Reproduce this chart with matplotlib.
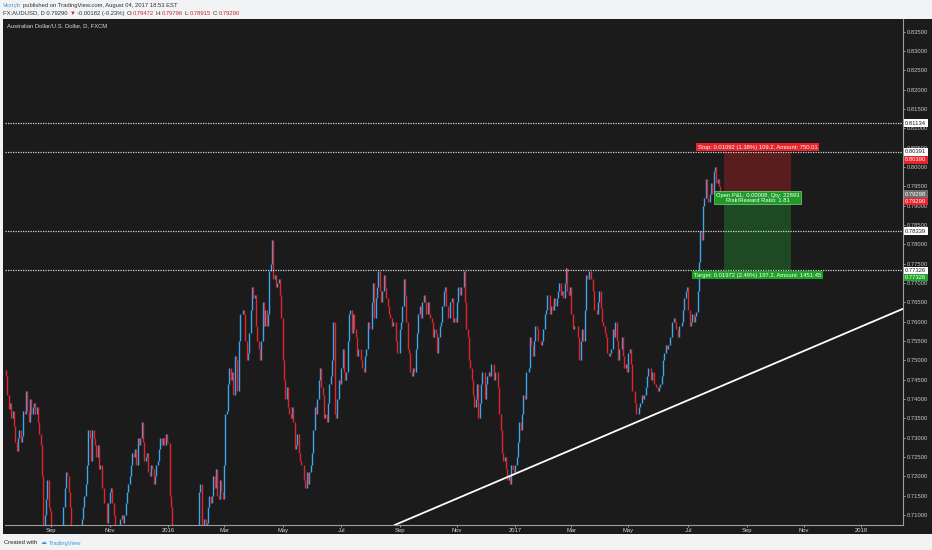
import numpy as np
import pandas as pd
import matplotlib
matplotlib.use("Agg")
import matplotlib.pyplot as plt
from matplotlib.patches import Rectangle
from matplotlib.transforms import blended_transform_factory

W, H = 932, 550
FONT = ["Liberation Sans", "DejaVu Sans"]

# AUD/USD daily closes in pips, one row per trading week
first_date = "2015-07-15"
first_open = 7475

closes_2015 = [
    7460, 7410, 7375,
    7390, 7350, 7370, 7330, 7290,
    7265, 7300, 7320, 7290, 7305,
    7370, 7360, 7420, 7370, 7340,
    7400, 7360, 7380, 7390, 7360,
    7380, 7340, 7310, 7280, 7200,
    7060, 7100, 7140, 7190, 7120,
    7110, 7050, 7040, 7010, 6940,
    6960, 6990, 7040, 7030, 7040,
    7120, 7170, 7210, 7200, 7160,
    7120, 7070, 7020, 7030, 7000,
    6990, 6980, 7020, 7050, 7090,
    7120, 7150, 7180, 7230, 7320,
    7300, 7240, 7320, 7300, 7280,
    7250, 7280, 7220, 7230, 7170,
    7170, 7130, 7130, 7080, 7130,
    7160, 7170, 7130, 7100, 7050,
    7030, 7020, 7030, 7090, 7100,
    7080, 7100, 7130, 7160, 7180,
    7200, 7230, 7260, 7250, 7270,
    7230, 7300, 7280, 7300, 7340,
    7290, 7240, 7250, 7260, 7210,
    7200, 7230, 7220, 7180, 7200,
    7230, 7240, 7270, 7300, 7280,
    7300, 7280, 7310, 7290, 7285,
]

closes_2016 = [
    7150, 7120, 7050, 6990, 7020,
    6990, 6990, 6940, 6920, 6860,
    6900, 6860, 6880, 6960, 6980,
    6990, 7010, 6960, 7050, 7070,
    7050, 7040, 7160, 7180, 7060,
    7060, 7090, 7060, 7080, 7120,
    7150, 7130, 7150, 7200, 7170,
    7220, 7150, 7140, 7190, 7160,
    7140, 7230, 7360, 7370, 7440,
    7480, 7450, 7470, 7410, 7510,
    7500, 7420, 7550, 7620, 7620,
    7630, 7620, 7550, 7500, 7520,
    7570, 7630, 7690, 7660, 7670,
    7590, 7550, 7530, 7500, 7550,
    7650, 7590, 7630, 7590, 7620,
    7730, 7750, 7810, 7710, 7720,
    7690, 7700, 7710, 7670, 7610,
    7500, 7450, 7400, 7430, 7380,
    7360, 7350, 7380, 7340, 7270,
    7280, 7310, 7260, 7240, 7230,
    7230, 7190, 7170, 7210, 7180,
    7210, 7230, 7260, 7320, 7380,
    7360, 7400, 7450, 7480, 7430,
    7410, 7350, 7360, 7340, 7390,
    7440, 7460, 7500, 7600, 7360,
    7350, 7400, 7450, 7440, 7480,
    7530, 7470, 7450, 7470, 7550,
    7620, 7630, 7570, 7620, 7580,
    7560, 7510, 7530, 7530, 7500,
    7480, 7470, 7510, 7530, 7600,
    7580, 7580, 7650, 7700, 7610,
    7660, 7690, 7730, 7680, 7650,
    7680, 7720, 7690, 7660, 7640,
    7620, 7610, 7590, 7600, 7600,
    7550, 7520, 7520, 7580, 7600,
    7640, 7710, 7670, 7600, 7530,
    7520, 7470, 7460, 7480, 7470,
    7530, 7570, 7620, 7640, 7610,
    7650, 7670, 7650, 7620, 7650,
    7620, 7610, 7600, 7560, 7580,
    7570, 7520, 7560, 7590, 7600,
    7640, 7680, 7690, 7640, 7610,
    7610, 7650, 7660, 7600, 7610,
    7600, 7650, 7690, 7670, 7690,
    7690, 7730, 7650, 7580, 7560,
    7500, 7480, 7450, 7410, 7380,
    7400, 7440, 7350, 7390, 7440,
    7470, 7470, 7400, 7440, 7460,
    7470, 7460, 7490, 7490, 7450,
    7470, 7470, 7430, 7360, 7320,
    7260, 7240, 7250, 7220, 7190,
    7200, 7180, 7230, 7220, 7210,
]

closes_2017 = [
    7230, 7250, 7290, 7340, 7320,
    7360, 7410, 7400, 7470, 7470,
    7480, 7560, 7540, 7510, 7550,
    7590, 7580, 7550, 7550, 7540,
    7550, 7580, 7620, 7630, 7670,
    7670, 7620, 7640, 7630, 7660,
    7640, 7660, 7680, 7700, 7670,
    7680, 7660, 7700, 7740, 7680,
    7670, 7690, 7620, 7580, 7590,
    7590, 7590, 7560, 7500, 7550,
    7580, 7550, 7630, 7720, 7710,
    7730, 7730, 7710, 7680, 7630,
    7630, 7620, 7650, 7680, 7635,
    7600, 7590, 7570, 7560, 7520,
    7510, 7520, 7530, 7580, 7560,
    7600, 7550, 7500, 7530, 7530,
    7560, 7510, 7480, 7490, 7470,
    7520, 7530, 7490, 7420, 7420,
    7390, 7360, 7360, 7380, 7390,
    7410, 7400, 7410, 7430, 7460,
    7480, 7480, 7450, 7470, 7440,
    7440, 7430, 7420, 7430, 7440,
    7460, 7500, 7520, 7540, 7530,
    7540, 7560, 7560, 7600, 7610,
    7600, 7580, 7560, 7590, 7590,
    7600, 7630, 7660, 7680, 7690,
    7630, 7590, 7600, 7620, 7600,
    7615, 7625, 7680, 7755, 7835,
    7810, 7900, 7920, 7970, 7920,
    7910, 7930, 7960, 7930, 7990,
    8000, 7960, 7970, 7950, 7929,
]

# horizontal levels drawn on the chart
levels = [0.81134, 0.80391, 0.78339, 0.77326]

# price tags on the right axis: price, text, box colour, text colour, shift in px
tag_prices = [0.81134, 0.80391, 0.80390, 0.79298, 0.79290, 0.78339, 0.77326, 0.77326]
tag_texts = ["0.81134", "0.80391", "0.80390", "0.79298", "0.79290", "0.78339", "0.77326", "0.77326"]
tag_faces = ["white", "white", "#e8232a", "#6e6e6e", "#e8232a", "white", "white", "#22a32a"]
tag_inks = ["#222222", "#222222", "white", "white", "white", "#222222", "#222222", "white"]
tag_shift = [0, 0, -8, 0, -7, 0, 0, -7]

# short position tool
pos_start, pos_end = "2017-08-09", "2017-10-18"
entry, stop, target = 0.79298, 0.80390, 0.77326
stop_text = "Stop: 0.01092 (1.38%) 109.2, Amount: 750.01"
target_text = "Target: 0.01972 (2.49%) 197.2, Amount: 1451.45"
pnl_text = "Open P&L: 0.00008, Qty: 22893\nRisk/Reward Ratio: 1.81"

# trend line anchors (touching the Dec 2016 and May 2017 lows)
trend_dates = ["2016-12-23", "2017-05-09"]
trend_prices = [0.7198, 0.7340]

month_names = {3: "Mar", 5: "May", 7: "Jul", 9: "Sep", 11: "Nov"}

closes = np.array(closes_2015 + closes_2016 + closes_2017) / 10000.0
opens = np.r_[first_open / 10000.0, closes[:-1]]
idx = np.arange(len(closes))
days = pd.bdate_range(first_date, "2018-03-30")


def bar_of(date):
    return days.searchsorted(pd.Timestamp(date))


BG = "#f1f3f5"
DARK = "#1b1b1b"
fig = plt.figure(figsize=(W / 100, H / 100), dpi=100)
fig.patch.set_facecolor(BG)

# dark chart panel behind the plot and both scales
panel = fig.add_axes([3 / W, 1 - 534 / H, 1 - 3 / W, (534 - 19) / H], zorder=-5)
panel.set_facecolor(DARK)
panel.set_xticks([])
panel.set_yticks([])
for s in panel.spines.values():
    s.set_visible(False)

ax = fig.add_axes([5 / W, 1 - 525 / H, (903 - 5) / W, (525 - 19) / H])
ax.set_facecolor(DARK)
ax.set_xlim(-0.75, 674.4)
ax.set_ylim(0.7074, 0.8383)

up = closes >= opens
ax.vlines(idx[up], opens[up], closes[up], color="#3ea6f0", lw=1.0)
ax.vlines(idx[~up], opens[~up], closes[~up], color="#e0262b", lw=1.0)

for lv in levels:
    ax.axhline(lv, color="#d8d8d8", lw=0.9, ls=(0, (1, 1)), zorder=3)

# position tool zones
x0, x1 = bar_of(pos_start), bar_of(pos_end)
ax.add_patch(Rectangle((x0, entry), x1 - x0, stop - entry,
                       facecolor="#5a1d1e", edgecolor="none", zorder=1))
ax.add_patch(Rectangle((x0, target), x1 - x0, entry - target,
                       facecolor="#1d4a22", edgecolor="none", zorder=1))
xc = (x0 + x1) / 2
ax.annotate(stop_text, (xc, stop), xytext=(0, 1.6), textcoords="offset points",
            ha="center", va="bottom", fontsize=4.2, family=FONT, color="white",
            bbox=dict(boxstyle="square,pad=0.25", fc="#e8232a", ec="none"), zorder=6)
ax.annotate(target_text, (xc, target), xytext=(0, -1.6), textcoords="offset points",
            ha="center", va="top", fontsize=4.2, family=FONT, color="white",
            bbox=dict(boxstyle="square,pad=0.25", fc="#1fa127", ec="none"), zorder=6)
ax.annotate(pnl_text, (xc, entry), xytext=(0, -2.4), textcoords="offset points",
            ha="center", va="center", fontsize=4.2, family=FONT, color="white",
            linespacing=1.0,
            bbox=dict(boxstyle="square,pad=0.25", fc="#1e9a28", ec="#7fd27f", lw=0.5),
            zorder=6)

# trend line
ax.axline((bar_of(trend_dates[0]), trend_prices[0]),
          (bar_of(trend_dates[1]), trend_prices[1]),
          color="white", lw=1.3, zorder=4)

# axes styling
for s in ["top", "left"]:
    ax.spines[s].set_visible(False)
for s in ["right", "bottom"]:
    ax.spines[s].set_color("#9c9c9c")
    ax.spines[s].set_linewidth(0.8)

ax.yaxis.tick_right()
yt = np.arange(0.710, 0.8351, 0.005)
ax.set_yticks(yt)
ax.set_yticklabels([f"{v:.5f}" for v in yt], family=FONT)
ax.tick_params(axis="y", labelsize=4.2, colors="#c8c8c8", length=1.5, width=0.5, pad=1.2)

months = pd.date_range("2015-09-01", "2018-01-01", freq="2MS")
ax.set_xticks([bar_of(m) for m in months])
ax.set_xticklabels([str(m.year) if m.month == 1 else month_names[m.month] for m in months],
                   family=FONT)
ax.tick_params(axis="x", labelsize=4.2, colors="#d4d4d4", length=1.5, width=0.5, pad=0.8)

tr = blended_transform_factory(ax.transAxes, ax.transData)
for p, t, fc, ink, sh in zip(tag_prices, tag_texts, tag_faces, tag_inks, tag_shift):
    ax.annotate(t, (1.0, p), xycoords=tr, xytext=(1.6, sh * 0.72), textcoords="offset points",
                ha="left", va="center", fontsize=4.2, family=FONT, color=ink,
                bbox=dict(boxstyle="square,pad=0.22", fc=fc, ec="none"),
                annotation_clip=False, zorder=7)

ax.text(0.0025, 1 - 7 / 506, "Australian Dollar/U.S. Dollar, D, FXCM",
        transform=ax.transAxes, fontsize=4.2, family=FONT, color="#d8d8d8",
        ha="left", va="center")

# header / footer texts made of coloured pieces
renderer = fig.canvas.get_renderer()


def pieces(x_px, y_px, parts, size=4.2):
    x = x_px
    for s, c in parts:
        if s == " ":
            x += size * 0.45
            continue
        t = fig.text(x / W, 1 - y_px / H, s, color=c, fontsize=size, family=FONT,
                     ha="left", va="baseline")
        x += t.get_window_extent(renderer=renderer).width


INK = "#333333"
RED = "#d3262b"
BLUE = "#3d98e0"
pieces(3, 7.0, [("Vezryb", BLUE), (" ", None),
                ("published on TradingView.com, August 04, 2017 18:53 EST", INK)])
pieces(3, 14.6, [("FX:AUDUSD, D 0.79290", INK), (" ", None), ("\u25bc", RED), (" ", None),
                 ("-0.00182 (-0.23%)", INK), (" ", None),
                 ("O:", INK), ("0.79472", RED), (" ", None),
                 ("H:", INK), ("0.79796", RED), (" ", None),
                 ("L:", INK), ("0.78915", RED), (" ", None),
                 ("C:", INK), ("0.79290", RED)])
pieces(4, 544.5, [("Created with", "#222222"), (" ", None), (" ", None),
                  ("\u2601", BLUE), (" ", None), ("TradingView", BLUE)])

fig.savefig("out.png", dpi=100, facecolor=BG)
